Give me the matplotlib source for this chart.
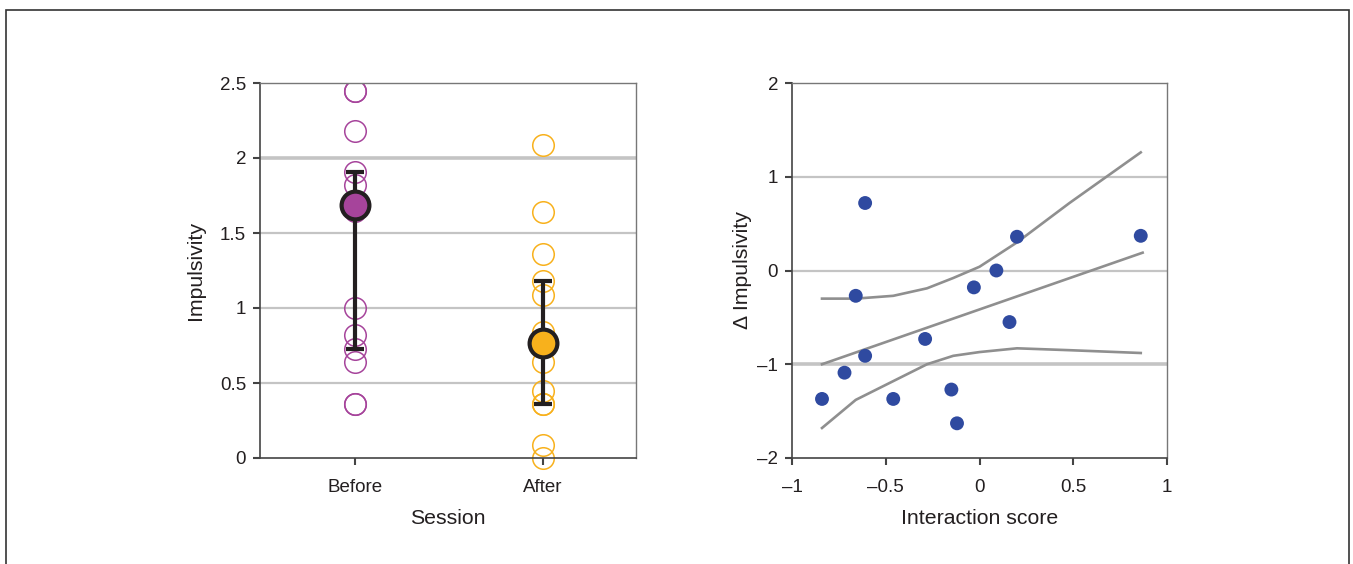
import matplotlib.pyplot as plt
import matplotlib.patches as mpatches
import numpy as np

plt.rcParams['font.family'] = ['Liberation Sans', 'DejaVu Sans']

# left panel: impulsivity per session
sessions = ['Before', 'After']
before = [2.45, 2.45, 2.18, 1.91, 1.82, 1.70, 1.65, 1.00, 0.82, 0.73, 0.64, 0.36, 0.36]
after = [2.09, 1.64, 1.36, 1.18, 1.09, 0.84, 0.64, 0.45, 0.36, 0.36, 0.09, 0.00]
means = [1.69, 0.77]
err_hi = [1.91, 1.18]
err_lo = [0.73, 0.36]

# right panel: change in impulsivity vs interaction score
score = [-0.61, -0.66, -0.61, -0.72, -0.84, -0.46, -0.29, -0.15, -0.12, -0.03, 0.09, 0.16, 0.20, 0.86]
delta = [0.72, -0.27, -0.91, -1.09, -1.37, -1.37, -0.73, -1.27, -1.63, -0.18, 0.00, -0.55, 0.36, 0.37]
fit_x = [-0.84, 0.87]
fit_y = [-1.00, 0.19]
ci_x = [-0.84, -0.66, -0.46, -0.28, -0.14, 0.00, 0.20, 0.48, 0.86]
ci_hi = [-0.30, -0.30, -0.27, -0.19, -0.08, 0.04, 0.30, 0.72, 1.26]
ci_lo = [-1.68, -1.38, -1.18, -1.00, -0.91, -0.87, -0.83, -0.85, -0.88]

PURPLE = '#a6449b'
ORANGE = '#f8b11c'
BLUE = '#2f4aa0'
GRID = '#c4c4c4'
SPINE = '#444444'
TEXT = '#231f20'

fig = plt.figure(figsize=(13.53, 5.64), dpi=100)

# outer frame
fig.patches.append(mpatches.Rectangle((6 / 1353, -0.1), 1343 / 1353, 1.1 - 10 / 564,
                                      transform=fig.transFigure, fill=False,
                                      edgecolor='#333333', linewidth=1.2))

ax1 = fig.add_axes([260 / 1353, 106 / 564, 376 / 1353, 375 / 564])
ax2 = fig.add_axes([792 / 1353, 106 / 564, 375 / 1353, 375 / 564])


def style(ax):
    for s in ['left', 'bottom']:
        ax.spines[s].set_color(SPINE)
        ax.spines[s].set_linewidth(1.2)
    for s in ['top', 'right']:
        ax.spines[s].set_color('#777777')
        ax.spines[s].set_linewidth(1.0)
    ax.tick_params(direction='out', length=5, width=1.5, color=SPINE,
                   labelsize=13.5, labelcolor=TEXT, top=False, right=False)
    ax.tick_params(axis='x', pad=10)
    ax.tick_params(axis='y', pad=5)


# left
for y in [0.5, 1.0, 1.5]:
    ax1.axhline(y, color=GRID, lw=1.6, zorder=0)
ax1.axhline(2.0, color=GRID, lw=2.6, zorder=0)
ax1.plot(np.zeros(len(before)), before, 'o', ms=15.5, mfc='none', mec=PURPLE, mew=1.1, zorder=2)
ax1.plot(np.ones(len(after)), after, 'o', ms=15.5, mfc='none', mec=ORANGE, mew=1.1, zorder=2, clip_on=False)
xs = np.arange(len(sessions))
ax1.errorbar(xs, means, yerr=[np.array(means) - err_lo, np.array(err_hi) - means],
             fmt='none', ecolor=TEXT, elinewidth=3, capsize=6.5, capthick=3, zorder=3)
ax1.scatter(xs[0], means[0], s=400, c=PURPLE, edgecolors=TEXT, linewidths=3, zorder=4)
ax1.scatter(xs[1], means[1], s=400, c=ORANGE, edgecolors=TEXT, linewidths=3, zorder=4)
ax1.set_xlim(-0.505, 1.495)
ax1.set_ylim(0, 2.5)
ax1.set_xticks(xs)
ax1.set_xticklabels(sessions)
ax1.set_yticks([0, 0.5, 1, 1.5, 2, 2.5])
ax1.set_yticklabels(['0', '0.5', '1', '1.5', '2', '2.5'])
ax1.set_xlabel('Session', fontsize=15.3, labelpad=9.5, color=TEXT)
ax1.set_ylabel('Impulsivity', fontsize=15.3, labelpad=11, color=TEXT)
style(ax1)

# right
for y in [0, 1]:
    ax2.axhline(y, color=GRID, lw=1.6, zorder=0)
ax2.axhline(-1, color=GRID, lw=2.6, zorder=0)
ax2.plot(fit_x, fit_y, color='#8f8f8f', lw=1.9, zorder=2)
ax2.plot(ci_x, ci_hi, color='#8f8f8f', lw=1.9, zorder=2)
ax2.plot(ci_x, ci_lo, color='#8f8f8f', lw=1.9, zorder=2)
ax2.scatter(score, delta, s=100, c=BLUE, edgecolors='none', zorder=3)
ax2.set_xlim(-1, 1)
ax2.set_ylim(-2, 2)
ax2.set_xticks([-1, -0.5, 0, 0.5, 1])
ax2.set_xticklabels(['\u20131', '\u20130.5', '0', '0.5', '1'])
ax2.set_yticks([-2, -1, 0, 1, 2])
ax2.set_yticklabels(['\u20132', '\u20131', '0', '1', '2'])
ax2.set_xlabel('Interaction score', fontsize=15.3, labelpad=9.5, color=TEXT)
ax2.set_ylabel('\u0394 Impulsivity', fontsize=15.3, labelpad=4, color=TEXT)
style(ax2)

fig.savefig('out.png', dpi=100)
